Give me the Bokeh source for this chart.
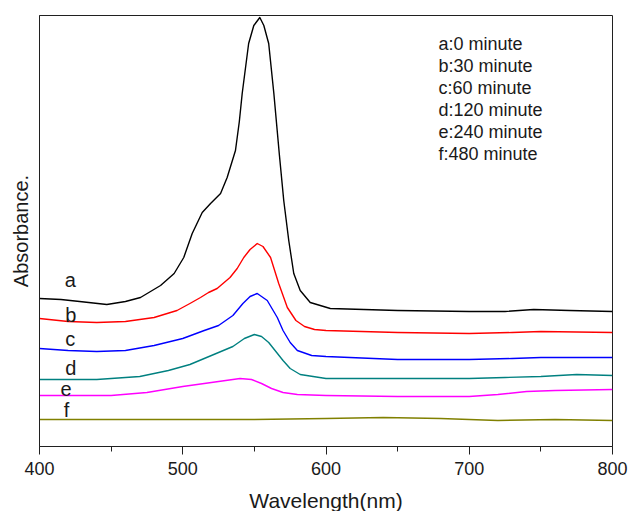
from bokeh.plotting import figure
from bokeh.models import FixedTicker, Range1d
from bokeh.core.properties import value
from bokeh.embed import file_html
from bokeh.resources import INLINE

FONT = "Liberation Sans"

# ---- data (arbitrary absorbance units) ----
wl_a = [400, 415, 428, 447, 460, 470.5, 484.5, 494, 500.7, 506.6, 513.6, 519.4, 526.4, 531, 536.8,
        539.5, 541.5, 546, 549.6, 553.8, 556.6, 560, 563.6, 567.5, 570.5, 574, 577.5, 582, 589,
        603, 650, 700, 725, 745, 770, 800]
ab_a = [1.48, 1.47, 1.45, 1.42, 1.45, 1.49, 1.61, 1.73, 1.89, 2.13, 2.34, 2.43, 2.53, 2.69, 2.96,
        3.25, 3.53, 4.03, 4.21, 4.29, 4.21, 4.03, 3.53, 2.91, 2.46, 2.06, 1.73, 1.56, 1.44,
        1.38, 1.36, 1.35, 1.35, 1.37, 1.36, 1.35]

wl_b = [400, 420, 440, 460, 480, 496, 505, 512.4, 518, 524, 533, 538, 542.6, 547, 552, 556,
        561.3, 567, 573, 579, 585, 592, 600, 650, 700, 730, 750, 800]
ab_b = [1.28, 1.25, 1.24, 1.25, 1.29, 1.36, 1.43, 1.49, 1.54, 1.58, 1.69, 1.78, 1.89, 1.97, 2.03, 2.00,
        1.89, 1.63, 1.39, 1.26, 1.20, 1.17, 1.16, 1.14, 1.13, 1.14, 1.15, 1.14]

wl_c = [400, 420, 440, 460, 480, 500, 515, 525, 535, 542, 547, 552, 559, 566, 570,
        575, 580, 590, 600, 650, 700, 730, 750, 800]
ab_c = [0.98, 0.96, 0.95, 0.96, 1.01, 1.08, 1.16, 1.21, 1.31, 1.43, 1.50, 1.53, 1.46, 1.29, 1.16,
        1.04, 0.96, 0.91, 0.90, 0.87, 0.87, 0.88, 0.89, 0.89]

wl_d = [400, 440, 470, 490, 505, 520, 535, 543, 550, 555, 560, 565, 570, 575, 582, 600,
        650, 700, 725, 750, 775, 800]
ab_d = [0.67, 0.67, 0.70, 0.76, 0.82, 0.91, 1.00, 1.08, 1.12, 1.10, 1.04, 0.95, 0.86, 0.78, 0.72, 0.68,
        0.68, 0.68, 0.69, 0.70, 0.72, 0.71]

wl_e = [400, 450, 475, 500, 520, 530, 540, 548, 555, 562, 570, 580, 600, 650, 700, 720,
        740, 760, 800]
ab_e = [0.51, 0.51, 0.54, 0.60, 0.64, 0.66, 0.68, 0.67, 0.63, 0.58, 0.54, 0.52, 0.51, 0.50, 0.50, 0.52,
        0.55, 0.56, 0.57]

wl_f = [400, 450, 500, 550, 600, 640, 680, 720, 760, 800]
ab_f = [0.27, 0.27, 0.27, 0.27, 0.28, 0.29, 0.28, 0.26, 0.27, 0.26]

series_colors = ["#000000", "#ff0000", "#0000ff", "#008080", "#ff00ff", "#808000"]

curve_letters = ["a", "b", "c", "d", "e", "f"]
letter_x = [417.6, 418, 418, 418, 414.7, 417]
letter_y = [1.67, 1.32, 1.08, 0.79, 0.58, 0.37]

legend_lines = ["a:0 minute", "b:30 minute", "c:60 minute", "d:120 minute", "e:240 minute", "f:480 minute"]
legend_x = 678.5
legend_y = [4.03, 3.81, 3.59, 3.37, 3.15, 2.93]

x_ticks = [400, 500, 600, 700, 800]
x_minor = [450, 550, 650, 750]

# ---- figure ----
p = figure(frame_width=573, frame_height=431,
           x_range=Range1d(400, 800), y_range=Range1d(0, 4.31),
           output_backend="svg", toolbar_location=None,
           min_border_left=39, min_border_right=16, min_border_top=15, min_border_bottom=63)
p.background_fill_color = "white"
p.border_fill_color = "white"
p.outline_line_color = "#202020"
p.outline_line_width = 1
p.xgrid.visible = False
p.ygrid.visible = False

xs = [wl_a, wl_b, wl_c, wl_d, wl_e, wl_f]
ys = [ab_a, ab_b, ab_c, ab_d, ab_e, ab_f]
for x, y, c in zip(xs, ys, series_colors):
    p.line(x, y, line_color=c, line_width=1.4, line_join="round")

xa = p.xaxis[0]
xa.ticker = FixedTicker(ticks=x_ticks, minor_ticks=x_minor)
xa.major_tick_in = 0
xa.major_tick_out = 8
xa.minor_tick_in = 0
xa.minor_tick_out = 5
xa.axis_line_color = "#202020"
xa.major_tick_line_color = "#202020"
xa.minor_tick_line_color = "#202020"
xa.major_label_text_font = FONT
xa.major_label_text_font_size = "18px"
xa.major_label_text_color = "#1a1a1a"
xa.major_label_standoff = 7
xa.axis_label = "Wavelength(nm)"
xa.axis_label_text_font = FONT
xa.axis_label_text_font_size = "21px"
xa.axis_label_text_font_style = "normal"
xa.axis_label_text_color = "#1a1a1a"
xa.axis_label_standoff = 11

ya = p.yaxis[0]
ya.ticker = FixedTicker(ticks=[])
ya.major_tick_line_color = None
ya.minor_tick_line_color = None
ya.major_label_text_font_size = "0px"
ya.major_label_standoff = 0
ya.axis_line_color = "#202020"
ya.axis_label = "Absorbance."
ya.axis_label_text_font = FONT
ya.axis_label_text_font_size = "20px"
ya.axis_label_text_font_style = "normal"
ya.axis_label_text_color = "#1a1a1a"
ya.axis_label_standoff = 8

p.text(x=letter_x, y=letter_y, text=curve_letters, text_font=value(FONT),
       text_font_size="20px", text_color="#1a1a1a", text_align="left", text_baseline="alphabetic")

p.text(x=[legend_x] * len(legend_lines), y=legend_y, text=legend_lines, text_font=value(FONT),
       text_font_size="18px", text_color="#1a1a1a", text_align="left", text_baseline="alphabetic")

open("out.html", "w").write(file_html(p, INLINE))
